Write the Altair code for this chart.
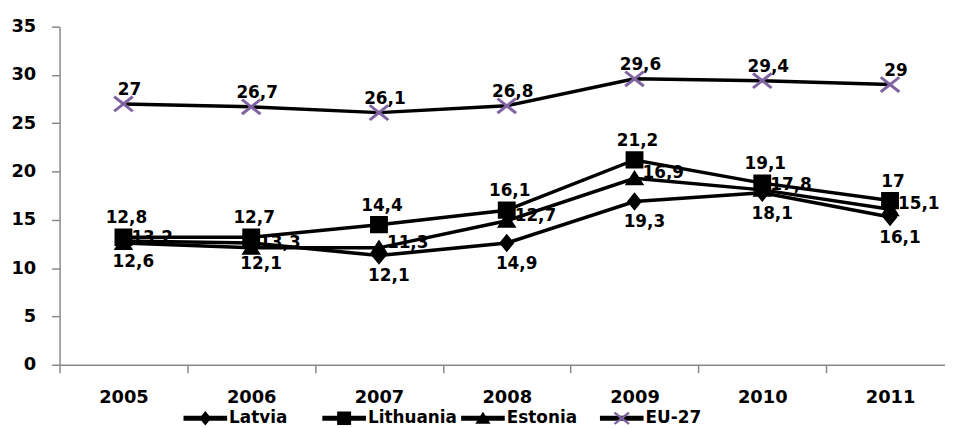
import altair as alt
import pandas as pd

# ---------------- data ----------------
years = [2005, 2006, 2007, 2008, 2009, 2010, 2011]
series_names = ["Latvia", "Lithuania", "Estonia", "EU-27"]

latvia = [12.8, 12.6, 11.3, 12.6, 16.9, 17.8, 15.3]
lithuania = [13.2, 13.2, 14.5, 16.0, 21.2, 18.8, 17.0]
estonia = [12.6, 12.1, 12.1, 14.9, 19.3, 18.1, 16.1]
eu27 = [27.0, 26.7, 26.1, 26.8, 29.6, 29.4, 29.0]

latvia_labels = ["12,6", "12,1", "12,1", "14,9", "19,3", "18,1", "16,1"]
lithuania_labels = ["12,8", "12,7", "14,4", "16,1", "21,2", "19,1", "17"]
estonia_labels = ["13,2", "13,3", "11,3", "12,7", "16,9", "17,8", "15,1"]
eu27_labels = ["27", "26,7", "26,1", "26,8", "29,6", "29,4", "29"]

rows = []
for name, vals, labs in [
    ("Latvia", latvia, latvia_labels),
    ("Lithuania", lithuania, lithuania_labels),
    ("Estonia", estonia, estonia_labels),
    ("EU-27", eu27, eu27_labels),
]:
    for yr, v, lab in zip(years, vals, labs):
        rows.append({"year": yr, "series": name, "series2": name, "value": v, "label": lab})
df = pd.DataFrame(rows)

# ---------------- styling ----------------
FONT = "DejaVu Sans"
GRAY = "#888888"
PURPLE = "#8064A2"


def xpath(ax, ay, e):
    yt = -ay + (ax - e) * (2 * ay - e) / (2 * ax - e)
    xr = -ax + e + ay * (2 * ax - e) / (2 * ay - e)
    pts = [(-ax, -ay + e), (-ax + e, -ay), (0, yt), (ax - e, -ay), (ax, -ay + e), (xr, 0),
           (ax, ay - e), (ax - e, ay), (0, -yt), (-ax + e, ay), (-ax, ay - e), (-xr, 0)]
    return "M" + "L".join(f"{px:.3f},{py:.3f}" for px, py in pts) + "Z"


# invisible zero-area guides give every legend symbol the same bounds
GUIDE = "M-1,0L1,0M0,-0.36L0,0.36"
DIAMOND = "M0,-0.33L0.27,0L0,0.33L-0.27,0Z" + GUIDE
SQUARE = "M-0.32,-0.31H0.32V0.31H-0.32Z" + GUIDE
TRIANGLE = "M0,-0.30L0.35,0.25H-0.35Z" + GUIDE
XSHAPE = xpath(0.37, 0.30, 0.075) + GUIDE
LINEBAR = "M-1,-0.115H1V0.115H-1Z" + GUIDE

x_enc = alt.X(
    "year:O", title=None,
    scale=alt.Scale(range=[0, 902], paddingInner=0, paddingOuter=0),
    axis=alt.Axis(labelAngle=0, tickBand="extent", tickSize=8, labelPadding=16,
                  labelFont=FONT, labelFontSize=18, labelFontWeight="bold", labelColor="black",
                  domainColor=GRAY, tickColor=GRAY, domainWidth=1.5, tickWidth=1.5,
                  grid=False, labelBaseline="top"),
)
y_enc = alt.Y(
    "value:Q", title=None,
    scale=alt.Scale(domain=[0, 35], nice=False),
    axis=alt.Axis(values=list(range(0, 36, 5)), tickSize=8, labelPadding=16,
                  labelFont=FONT, labelFontSize=18, labelFontWeight="bold", labelColor="black",
                  domainColor=GRAY, tickColor=GRAY, domainWidth=1.5, tickWidth=1.5, grid=False),
)

legend_common = dict(orient="none", legendX=125, legendY=373, direction="horizontal", columns=4,
                     gridAlign="all", columnPadding=4, title=None, labelFont=FONT, labelFontSize=17,
                     labelFontWeight="bold", labelColor="black", labelOffset=2, symbolSize=1936,
                     symbolStrokeWidth=0, padding=0)

lines = alt.Chart(df).mark_line(strokeWidth=3.5, color="black").encode(
    x=x_enc, y=y_enc, detail="series:N",
)

# legend of line segments (invisible marks, used only for the legend)
legend_lines = alt.Chart(df).mark_point(filled=True, opacity=0, size=10, color="black").encode(
    x=x_enc, y=y_enc,
    shape=alt.Shape("series:N", sort=series_names, scale=alt.Scale(range=[LINEBAR] * 4),
                    legend=alt.Legend(symbolOpacity=1, symbolFillColor="black", labelOpacity=0,
                                      zindex=1, **legend_common)),
)

# markers + their legend (shape and fill share one explicit domain, so one legend)
legend_b = alt.Legend(zindex=2, **legend_common)
points = alt.Chart(df).mark_point(filled=True, size=3164, opacity=1, strokeWidth=0).encode(
    x=x_enc, y=y_enc,
    shape=alt.Shape("series2:N",
                    scale=alt.Scale(domain=series_names,
                                    range=[DIAMOND, SQUARE, TRIANGLE, XSHAPE]),
                    legend=legend_b),
    fill=alt.Fill("series2:N",
                  scale=alt.Scale(domain=series_names,
                                  range=["black", "black", "black", PURPLE]),
                  legend=legend_b),
)


def label_layer(name, **kw):
    return alt.Chart(df).transform_filter(alt.datum.series == name).mark_text(
        font=FONT, fontSize=17, fontWeight="bold", color="black", baseline="middle", **kw
    ).encode(x=x_enc, y=y_enc, text="label:N")


texts = [
    label_layer("Lithuania", align="center", dx=3, dy=-19),
    label_layer("Latvia", align="center", dx=10, dy=21),
    label_layer("Estonia", align="left", dx=8, dy=-5),
    label_layer("EU-27", align="center", dx=6, dy=-14),
]

chart = alt.layer(lines, legend_lines, *texts, points).resolve_scale(
    shape="independent", fill="independent"
).resolve_legend(shape="independent", fill="independent").properties(
    width=893, height=341,
    padding={"left": 52, "top": 17, "right": 0, "bottom": 62},
    autosize=alt.AutoSizeParams(type="none"),
).configure_view(stroke=None)

chart.save("out.html", embed_options={"renderer": "svg", "actions": False})
